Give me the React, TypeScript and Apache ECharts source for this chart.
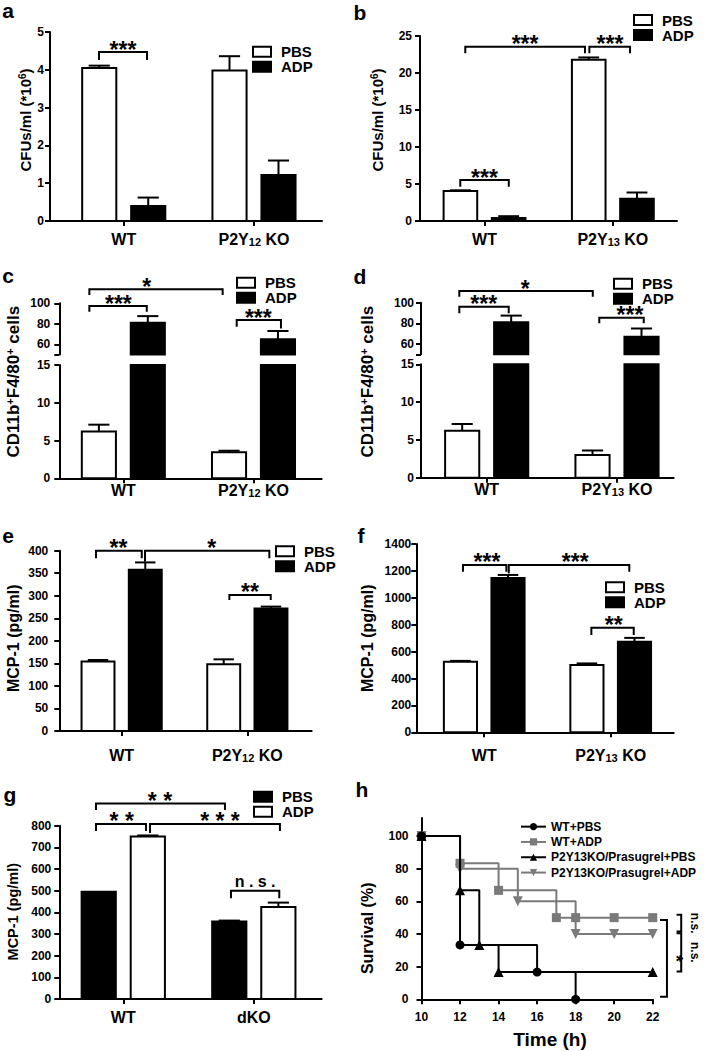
import React, { useEffect, useRef } from 'react';
import * as echarts from 'echarts';

const FONT = '"Liberation Sans", Arial, Helvetica, sans-serif';
const BLACK = '#000000';
const WHITE = '#ffffff';
const GRAY = '#7a7a7a';

// ---------------- data ----------------
// a
const CATS_A = ['WT', 'P2Y12 KO'];
const A_PBS = [4.05, 3.98];
const A_PBS_ERR = [0.06, 0.38];
const A_ADP = [0.4, 1.22];
const A_ADP_ERR = [0.22, 0.38];
// bracket: [x1, x2, yLine, leg1, leg2, text, textX]
const A_SIG: any[] = [[-0.19, 0.179, 4.47, 4.26, 4.26, '***']];

// b
const CATS_B = ['WT', 'P2Y13 KO'];
const B_PBS = [4.05, 21.8];
const B_PBS_ERR = [0.1, 0.3];
const B_ADP = [0.4, 3.0];
const B_ADP_ERR = [0.25, 0.85];
const B_SIG: any[] = [
  [-0.189, 0.189, 5.54, 4.64, 4.64, '***'],
  [-0.15, 0.783, 23.55, 22.66, 22.66, '***', 0.316],
  [0.817, 1.134, 23.55, 22.66, 22.66, '***', 0.978],
];

// c
const CATS_C = ['WT', 'P2Y12 KO'];
const C_PBS = [6.2, 3.45];
const C_PBS_ERR = [0.9, 0.2];
const C_ADP = [81, 65];
const C_ADP_ERR = [6.5, 8];
const C_SIG: any[] = [
  [-0.261, 0.18, 97.3, 91.8, 91.8, '***', -0.038],
  [-0.261, 0.763, 113.7, 108.1, 108.1, '*', 0.18],
  [0.871, 1.211, 83.7, 77.2, 75.5, '***', 1.037],
];

// d
const CATS_D = ['WT', 'P2Y13 KO'];
const D_PBS = [6.2, 3.0];
const D_PBS_ERR = [0.9, 0.6];
const D_ADP = [81, 67];
const D_ADP_ERR = [6.5, 8];
const D_SIG: any[] = [
  [-0.21, 0.169, 96.1, 89.7, 89.7, '***', -0.023],
  [-0.21, 0.814, 111.3, 105.8, 105.8, '*', 0.296],
  [0.864, 1.205, 85.5, 80, 80, '***', 1.1],
];

// e
const CATS_E = ['WT', 'P2Y12 KO'];
const E_PBS = [154, 148];
const E_PBS_ERR = [3.5, 11];
const E_ADP = [358, 272];
const E_ADP_ERR = [16, 4];
const E_SIG: any[] = [
  [-0.204, 0.16, 400, 383.2, 383.2, '**', -0.026],
  [0.186, 1.175, 400, 375.6, 383.2, '*', 0.717],
  [0.857, 1.186, 301.8, 290.7, 290.7, '**', 1.021],
];

// f
const CATS_F = ['WT', 'P2Y13 KO'];
const F_PBS = [525, 500];
const F_PBS_ERR = [6, 12];
const F_ADP = [1148, 674];
const F_ADP_ERR = [22, 28];
const F_SIG: any[] = [
  [-0.168, 0.175, 1244, 1194, 1194, '***', 0.022],
  [0.194, 1.147, 1244, 1182, 1194, '***', 0.72],
  [0.847, 1.182, 778, 723, 723, '**', 1.024],
];

// g
const CATS_G = ['WT', 'dKO'];
const G_PBS = [495, 358];
const G_PBS_ERR = [0, 4];
const G_ADP = [750, 425];
const G_ADP_ERR = [5, 20];
const G_SIG: any[] = [
  [-0.209, 0.779, 903, 872, 872, '* *', 0.281],
  [-0.209, 0.174, 808, 775, 775, '* *', -0.012],
  [0.205, 1.2, 808, 766, 775, '* * *', 0.741],
  [0.825, 1.195, 500, 465, 465, 'n . s .', 1.01],
];

// h (Kaplan-Meier)
const H_NAMES = ['WT+PBS', 'WT+ADP', 'P2Y13KO/Prasugrel+PBS', 'P2Y13KO/Prasugrel+ADP'];
const H_T_WT_PBS = [10, 12, 16, 18];
const H_S_WT_PBS = [100, 33.3, 16.7, 0];
const H_T_WT_ADP = [10, 12, 14, 17, 18, 20, 22];
const H_S_WT_ADP = [100, 83.3, 66.7, 50, 50, 50, 50];
const H_T_KO_PBS = [10, 12, 13, 14, 22];
const H_S_KO_PBS = [100, 66.7, 33.3, 16.7, 16.7];
const H_T_KO_ADP = [10, 12, 15, 18, 20, 22];
const H_S_KO_ADP = [100, 80, 60, 40, 40, 40];
const H_Y_TICKS = [0, 20, 40, 60, 80, 100];
// vertical brackets: [x, xTickEnd, yTop, yBottom, text, textX]
const H_SIG: any[] = [
  [22.74, 22.38, 48.5, 1.5, '*', 23.2],
  [23.48, 23.24, 51.7, 41.5, 'n.s.', 24.2],
  [23.48, 23.24, 40.5, 17, 'n.s.', 24.2],
];

// ---------------- helpers ----------------
const OFF = 0.188;
const BW = 0.262;

const CAT_RICH = {
  a: { fontFamily: FONT, fontWeight: 'bold', fontSize: 16, color: BLACK },
  s: { fontFamily: FONT, fontWeight: 'bold', fontSize: 11, color: BLACK, verticalAlign: 'bottom' },
};

function catLabel(name: string) {
  const m = name.match(/^P2Y(\d+)(.*)$/);
  return m ? `{a|P2Y}{s|${m[1]}}{a|${m[2]}}` : `{a|${name}}`;
}

const AXIS_LINE = { show: true, onZero: false, lineStyle: { color: BLACK, width: 2 } };
const AXIS_TICK = { show: true, length: 5, lineStyle: { color: BLACK, width: 2 } };
const plain = (v: number) => String(v);

function barRender(lo: number, hi: number, fill: string) {
  return (params: any, api: any) => {
    const x = api.value(0);
    const v = api.value(1);
    const e = api.value(2);
    if (v <= lo) return null;
    const top = Math.min(v, hi);
    const p0 = api.coord([x, lo]);
    const p1 = api.coord([x, top]);
    const w = api.size([BW, 0])[0];
    const children: any[] = [
      {
        type: 'rect',
        shape: { x: p0[0] - w / 2, y: p1[1], width: w, height: p0[1] - p1[1] },
        style: { fill, stroke: BLACK, lineWidth: 2 },
      },
    ];
    if (v <= hi && e > 0) {
      const pe = api.coord([x, v + e]);
      const cw = w * 0.62;
      children.push({
        type: 'line',
        shape: { x1: p1[0], y1: p1[1], x2: pe[0], y2: pe[1] },
        style: { stroke: BLACK, lineWidth: 2 },
      });
      children.push({
        type: 'line',
        shape: { x1: pe[0] - cw / 2, y1: pe[1], x2: pe[0] + cw / 2, y2: pe[1] },
        style: { stroke: BLACK, lineWidth: 2 },
      });
    }
    return { type: 'group', children };
  };
}

function sigRender(sig: any[]) {
  return (params: any, api: any) => {
    const s = sig[params.dataIndex];
    const [x1, x2, y, l1, l2, text, tx] = s;
    const pL = api.coord([x1, y]);
    const pR = api.coord([x2, y]);
    const b1 = api.coord([x1, l1]);
    const b2 = api.coord([x2, l2]);
    const cx = api.coord([tx === undefined ? (x1 + x2) / 2 : tx, y])[0];
    const isStar = /^[*\s]+$/.test(text);
    return {
      type: 'group',
      children: [
        {
          type: 'polyline',
          shape: { points: [[b1[0], b1[1]], [pL[0], pL[1]], [pR[0], pR[1]], [b2[0], b2[1]]] },
          style: { stroke: BLACK, lineWidth: 2, fill: null },
        },
        {
          type: 'text',
          x: cx,
          y: pL[1] - (isStar ? 2.5 : 9),
          style: {
            text,
            fill: BLACK,
            fontFamily: FONT,
            fontWeight: 'bold',
            fontSize: isStar ? 23 : 16,
            align: 'center',
            verticalAlign: 'middle',
          },
        },
      ],
    };
  };
}

function vsigRender(sig: any[]) {
  return (params: any, api: any) => {
    const [x, xt, y1, y2, text, tx] = sig[params.dataIndex];
    const t = api.coord([x, y1]);
    const b = api.coord([x, y2]);
    const tl = api.coord([xt, y1]);
    const c = api.coord([tx, (y1 + y2) / 2]);
    const isStar = text === '*';
    return {
      type: 'group',
      children: [
        {
          type: 'polyline',
          shape: { points: [[tl[0], t[1]], [t[0], t[1]], [b[0], b[1]], [tl[0], b[1]]] },
          style: { stroke: BLACK, lineWidth: 2, fill: null },
        },
        {
          type: 'text',
          x: c[0],
          y: c[1],
          rotation: -Math.PI / 2,
          style: {
            text,
            fill: BLACK,
            fontFamily: FONT,
            fontWeight: 'bold',
            fontSize: isStar ? 18 : 12,
            align: 'center',
            verticalAlign: 'middle',
          },
        },
      ],
    };
  };
}

type BarPanel = {
  cats: string[];
  pbs: number[];
  pbsErr: number[];
  adp: number[];
  adpErr: number[];
  sig: any[];
  pbsFill: string;
  adpFill: string;
  left: number;
  width: number;
  top: number;
  height: number;
  x: [number, number];
  y: [number, number, number];
  tickFont: number;
  labelMargin: number;
  catMargin: number;
  legend: [number, number];
  upper?: { top: number; height: number };
};

const PANELS: BarPanel[] = [
  {
    cats: CATS_A, pbs: A_PBS, pbsErr: A_PBS_ERR, adp: A_ADP, adpErr: A_ADP_ERR, sig: A_SIG,
    pbsFill: WHITE, adpFill: BLACK,
    left: 50, width: 272, top: 32, height: 189, x: [-0.566, 1.522], y: [0, 5, 1],
    tickFont: 12, labelMargin: 6, catMargin: 10, legend: [252, 44.2],
  },
  {
    cats: CATS_B, pbs: B_PBS, pbsErr: B_PBS_ERR, adp: B_ADP, adpErr: B_ADP_ERR, sig: B_SIG,
    pbsFill: WHITE, adpFill: BLACK,
    left: 420, width: 257, top: 36, height: 185, x: [-0.503, 1.5], y: [0, 25, 5],
    tickFont: 12, labelMargin: 8, catMargin: 10, legend: [633, 12.5],
  },
  {
    cats: CATS_C, pbs: C_PBS, pbsErr: C_PBS_ERR, adp: C_ADP, adpErr: C_ADP_ERR, sig: C_SIG,
    pbsFill: WHITE, adpFill: BLACK,
    left: 59.3, width: 262.4, top: 365, height: 113.3, x: [-0.492, 1.524], y: [0, 15, 5],
    tickFont: 12, labelMargin: 9, catMargin: 4, legend: [236, 275.2],
    upper: { top: 303.3, height: 51.3 },
  },
  {
    cats: CATS_D, pbs: D_PBS, pbsErr: D_PBS_ERR, adp: D_ADP, adpErr: D_ADP_ERR, sig: D_SIG,
    pbsFill: WHITE, adpFill: BLACK,
    left: 421, width: 252.7, top: 364.3, height: 113.4, x: [-0.504, 1.435], y: [0, 15, 5],
    tickFont: 12, labelMargin: 7, catMargin: 4, legend: [613, 276.2],
    upper: { top: 302.7, height: 51.6 },
  },
  {
    cats: CATS_E, pbs: E_PBS, pbsErr: E_PBS_ERR, adp: E_ADP, adpErr: E_ADP_ERR, sig: E_SIG,
    pbsFill: WHITE, adpFill: BLACK,
    left: 59.3, width: 252.4, top: 550.7, height: 180.3, x: [-0.496, 1.512], y: [0, 400, 50],
    tickFont: 12, labelMargin: 11, catMargin: 16, legend: [275, 543.8],
  },
  {
    cats: CATS_F, pbs: F_PBS, pbsErr: F_PBS_ERR, adp: F_ADP, adpErr: F_ADP_ERR, sig: F_SIG,
    pbsFill: WHITE, adpFill: BLACK,
    left: 416.3, width: 257.4, top: 544, height: 188.3, x: [-0.537, 1.498], y: [0, 1400, 200],
    tickFont: 12, labelMargin: 5, catMargin: 15, legend: [605, 579.7],
  },
  {
    cats: CATS_G, pbs: G_PBS, pbsErr: G_PBS_ERR, adp: G_ADP, adpErr: G_ADP_ERR, sig: G_SIG,
    pbsFill: BLACK, adpFill: WHITE,
    left: 59.3, width: 262.4, top: 825.7, height: 173.3, x: [-0.49, 1.52], y: [0, 800, 100],
    tickFont: 12, labelMargin: 8, catMargin: 10, legend: [253, 789.2],
  },
];

const LETTERS: [string, number, number][] = [
  ['a', 8, 10], ['b', 360, 12.5], ['c', 8, 275], ['d', 360, 276],
  ['e', 8, 535], ['f', 361, 535], ['g', 10, 794], ['h', 362, 789],
];

const CFU_TITLE = '{a|CFUs/ml (*10}{s|6}{a|)}';
const CD_TITLE = '{a|CD11b}{s|+}{a|F4/80}{s|+}{a| cells}';
const MCP_TITLE = 'MCP-1 (pg/ml)';

function titleRich(fs: number) {
  return {
    a: { fontFamily: FONT, fontWeight: 'bold', fontSize: fs, color: BLACK },
    s: { fontFamily: FONT, fontWeight: 'bold', fontSize: Math.round(fs * 0.65), color: BLACK, verticalAlign: 'top' },
  };
}

function buildOption() {
  const opt: any = {
    backgroundColor: WHITE,
    animation: false,
    grid: [],
    xAxis: [],
    yAxis: [],
    series: [],
    legend: [],
    graphic: [],
  };

  const addGrid = (left: number, top: number, width: number, height: number) => {
    opt.grid.push({ left, top, width, height, containLabel: false });
    return opt.grid.length - 1;
  };

  PANELS.forEach((p) => {
    const gi = addGrid(p.left, p.top, p.width, p.height);
    const idx = p.cats.map((_, i) => i);
    opt.xAxis.push({
      type: 'value', gridIndex: gi, min: p.x[0], max: p.x[1],
      axisLine: AXIS_LINE,
      axisTick: { ...AXIS_TICK, customValues: idx },
      axisLabel: {
        customValues: idx, margin: p.catMargin,
        formatter: (v: number) => catLabel(p.cats[Math.round(v)]),
        rich: CAT_RICH,
      },
      splitLine: { show: false },
    });
    opt.yAxis.push({
      type: 'value', gridIndex: gi, min: p.y[0], max: p.y[1], interval: p.y[2],
      axisLine: AXIS_LINE, axisTick: AXIS_TICK,
      axisLabel: { color: BLACK, fontFamily: FONT, fontWeight: 'bold', fontSize: p.tickFont, margin: p.labelMargin, formatter: plain },
      splitLine: { show: false },
    });
    const segs: { gi: number; lo: number; hi: number }[] = [{ gi, lo: p.y[0], hi: p.y[1] }];
    let sigGi = gi;
    if (p.upper) {
      const ug = addGrid(p.left, p.upper.top, p.width, p.upper.height);
      opt.xAxis.push({ type: 'value', gridIndex: ug, min: p.x[0], max: p.x[1], show: false, splitLine: { show: false } });
      opt.yAxis.push({
        type: 'value', gridIndex: ug, min: 50, max: 100,
        axisLine: AXIS_LINE,
        axisTick: { ...AXIS_TICK, customValues: [50, 60, 80, 100] },
        axisLabel: { customValues: [60, 80, 100], color: BLACK, fontFamily: FONT, fontWeight: 'bold', fontSize: p.tickFont, margin: p.labelMargin, formatter: plain },
        splitLine: { show: false },
      });
      segs.push({ gi: ug, lo: 50, hi: 100 });
      sigGi = ug;
    }
    segs.forEach((s) => {
      opt.series.push({
        type: 'custom', name: 'PBS', xAxisIndex: s.gi, yAxisIndex: s.gi, z: 2, clip: false,
        renderItem: barRender(s.lo, s.hi, p.pbsFill),
        itemStyle: { color: p.pbsFill, borderColor: BLACK, borderWidth: 2 },
        encode: { x: 0, y: 1 },
        data: p.pbs.map((v, i) => [i - OFF, v, p.pbsErr[i]]),
      });
      opt.series.push({
        type: 'custom', name: 'ADP', xAxisIndex: s.gi, yAxisIndex: s.gi, z: 2, clip: false,
        renderItem: barRender(s.lo, s.hi, p.adpFill),
        itemStyle: { color: p.adpFill, borderColor: BLACK, borderWidth: 2 },
        encode: { x: 0, y: 1 },
        data: p.adp.map((v, i) => [i + OFF, v, p.adpErr[i]]),
      });
    });
    opt.series.push({
      type: 'custom', name: 'significance', xAxisIndex: sigGi, yAxisIndex: sigGi, z: 3, clip: false, silent: true,
      renderItem: sigRender(p.sig),
      encode: { x: 0, y: 2 },
      data: p.sig.map((s) => [s[0], s[1], s[2]]),
    });
    opt.legend.push({
      left: p.legend[0], top: p.legend[1], orient: 'vertical', padding: 0, itemGap: 0,
      itemWidth: 18, itemHeight: 10, selectedMode: false,
      textStyle: { fontFamily: FONT, fontWeight: 'bold', fontSize: 15, color: BLACK, lineHeight: 15, padding: [0, 0, 0, 5] },
      data: [
        { name: 'PBS', icon: 'rect', itemStyle: { color: p.pbsFill, borderColor: BLACK, borderWidth: 2 } },
        { name: 'ADP', icon: 'rect', itemStyle: { color: p.adpFill, borderColor: BLACK, borderWidth: 2 } },
      ],
    });
  });

  // panel h
  const hg = addGrid(421.5, 818, 231.2, 181.3);
  opt.xAxis.push({
    type: 'value', gridIndex: hg, min: 10, max: 22, interval: 2,
    axisLine: AXIS_LINE, axisTick: AXIS_TICK,
    axisLabel: { color: BLACK, fontFamily: FONT, fontWeight: 'bold', fontSize: 12, margin: 12, formatter: plain },
    splitLine: { show: false },
  });
  opt.yAxis.push({
    type: 'value', gridIndex: hg, min: 0, max: 111,
    axisLine: AXIS_LINE,
    axisTick: { ...AXIS_TICK, customValues: H_Y_TICKS },
    axisLabel: { customValues: H_Y_TICKS, color: BLACK, fontFamily: FONT, fontWeight: 'bold', fontSize: 12, margin: 13, formatter: plain },
    splitLine: { show: false },
  });
  const zip = (t: number[], s: number[]) => t.map((x, i) => [x, s[i]]);
  const hSeries = [
    { name: H_NAMES[1], data: zip(H_T_WT_ADP, H_S_WT_ADP), color: GRAY, symbol: 'rect', size: 9, rot: 0, z: 3 },
    { name: H_NAMES[3], data: zip(H_T_KO_ADP, H_S_KO_ADP), color: GRAY, symbol: 'triangle', size: 10, rot: 180, z: 3 },
    { name: H_NAMES[2], data: zip(H_T_KO_PBS, H_S_KO_PBS), color: BLACK, symbol: 'triangle', size: 10, rot: 0, z: 4 },
    { name: H_NAMES[0], data: zip(H_T_WT_PBS, H_S_WT_PBS), color: BLACK, symbol: 'circle', size: 9, rot: 0, z: 5 },
  ];
  hSeries.forEach((s) => {
    opt.series.push({
      type: 'line', name: s.name, xAxisIndex: hg, yAxisIndex: hg, step: 'end', z: s.z,
      symbol: s.symbol, symbolSize: s.size, symbolRotate: s.rot, showAllSymbol: true,
      lineStyle: { color: s.color, width: 2 }, itemStyle: { color: s.color },
      data: s.data, clip: false,
    });
  });
  opt.series.push({
    type: 'custom', name: 'survival significance', xAxisIndex: hg, yAxisIndex: hg, z: 3, clip: false, silent: true,
    renderItem: vsigRender(H_SIG),
    encode: { x: 0, y: 2 },
    data: H_SIG.map((s) => [s[0], s[1], s[2]]),
  });
  opt.legend.push({
    left: 520, top: 819, orient: 'vertical', padding: 0, itemGap: 0, itemWidth: 25, itemHeight: 9,
    selectedMode: false,
    textStyle: { fontFamily: FONT, fontWeight: 'bold', fontSize: 12, color: BLACK, lineHeight: 15.3 },
    data: H_NAMES,
  });

  // panel letters
  LETTERS.forEach(([t, x, y]) => {
    opt.graphic.push({
      type: 'text', x, y, silent: true,
      style: { text: t, fill: BLACK, fontFamily: FONT, fontWeight: 'bold', fontSize: 21, align: 'center', verticalAlign: 'middle' },
    });
  });

  // axis titles
  const titles: [string, number, number, number][] = [
    [CFU_TITLE, 25, 120, 15],
    [CFU_TITLE, 377, 120, 15],
    [CD_TITLE, 13.3, 381.7, 17],
    [CD_TITLE, 367, 381.7, 17],
    [`{a|${MCP_TITLE}}`, 13, 638.3, 16],
    [`{a|${MCP_TITLE}}`, 367, 638.3, 16],
    [`{a|${MCP_TITLE}}`, 13, 911.7, 14.5],
    ['{a|Survival (%)}', 367, 928.3, 16],
  ];
  titles.forEach(([t, x, y, fs]) => {
    opt.graphic.push({
      type: 'text', x, y, rotation: Math.PI / 2, silent: true,
      style: { text: t, rich: titleRich(fs), fill: BLACK, fontFamily: FONT, fontWeight: 'bold', fontSize: fs, align: 'center', verticalAlign: 'middle' },
    });
  });
  opt.graphic.push({
    type: 'text', x: 550, y: 1039, silent: true,
    style: { text: 'Time (h)', fill: BLACK, fontFamily: FONT, fontWeight: 'bold', fontSize: 19, align: 'center', verticalAlign: 'middle' },
  });

  return opt;
}

export default function App() {
  const ref = useRef<HTMLDivElement>(null);
  useEffect(() => {
    if (!ref.current) return;
    const chart = echarts.init(ref.current, null, { renderer: 'svg', width: 704, height: 1051 });
    chart.setOption(buildOption());
    return () => chart.dispose();
  }, []);
  return (
    <div
      ref={ref}
      style={{ position: 'absolute', left: 0, top: 0, width: 704, height: 1051, background: '#fff' }}
    />
  );
}
